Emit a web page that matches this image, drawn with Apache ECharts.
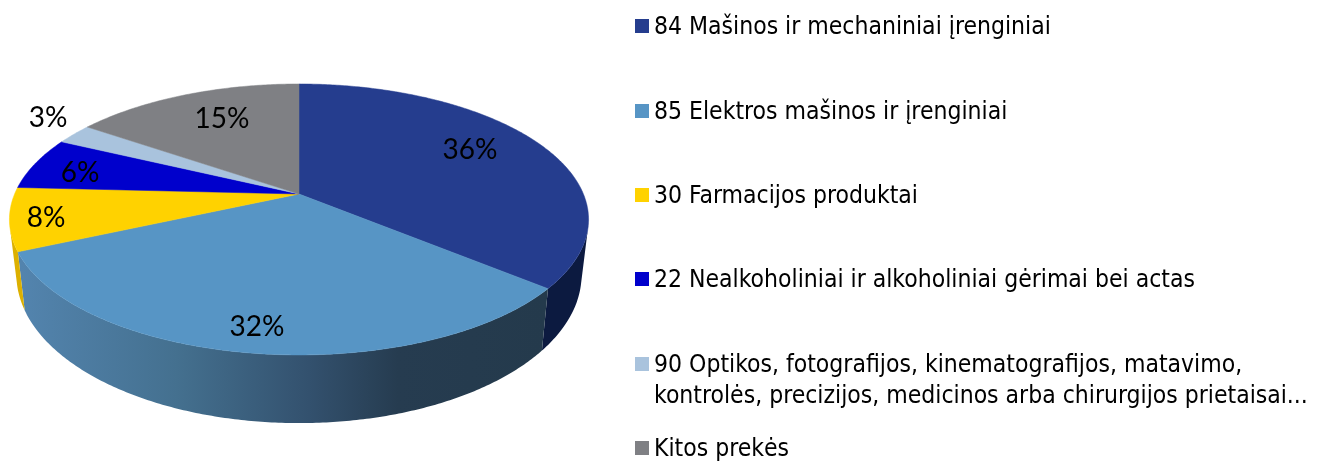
<!DOCTYPE html>
<html>
<head>
<meta charset="utf-8">
<style>html,body{margin:0;padding:0;background:#fff}#c{width:1330px;height:461px}</style>
<script src="https://cdn.jsdelivr.net/npm/echarts@6/dist/echarts.min.js"></script>
</head>
<body>
<div id="c"></div>
<script>
const categories = [
  "84 Mašinos ir mechaniniai įrenginiai",
  "85 Elektros mašinos ir įrenginiai",
  "30 Farmacijos produktai",
  "22 Nealkoholiniai ir alkoholiniai gėrimai bei actas",
  "90 Optikos, fotografijos, kinematografijos, matavimo,\nkontrolės, precizijos, medicinos arba chirurgijos prietaisai...",
  "Kitos prekės"
];
const shares = [36.0, 32.3, 7.5, 6.3, 2.5, 15.4];
const topColors = ["#253d8e", "#5795c5", "#ffd200", "#0000cc", "#a9c3dd", "#7f8084"];
const wallColors = ["#0c1a40", null, "#dcb000", "#00007a", "#657a8a", "#4c4d50"];

// layout of the tilted disc (a projective view of a circle)
const TILT = 0.188;
const TOP = {x: 299, y: 194, a: 284.4, b: 130.7};
const BOTTOM = {x: 299, y: 247, a: 277.5, b: 143};
const labelAt = [[470,150],[257,327],[46,218],[80,173],[48,118],[222,119]];
const legendY = [26,111,195,279,364,448];

function project(disc, theta) {
  const u = Math.sin(theta), v = -Math.cos(theta), d = 1 - TILT * v;
  return [disc.x + disc.a * u / d, disc.y + disc.b * v / d];
}
function arc(disc, a0, a1) {
  const pts = [], n = Math.max(2, Math.ceil((a1 - a0) / 0.01));
  for (let i = 0; i <= n; i++) pts.push(project(disc, a0 + (a1 - a0) * i / n));
  return pts;
}
// angle at which the edge of the wall is tangent to the rim (right-hand side)
function silhouetteAngle() {
  const cross = (t) => {
    const p = project(TOP, t), q = project(TOP, t + 1e-3), b = project(BOTTOM, t);
    return (q[0] - p[0]) * (b[1] - p[1]) - (q[1] - p[1]) * (b[0] - p[0]);
  };
  let lo = Math.PI * 0.2, hi = Math.PI * 0.8;
  const s = Math.sign(cross(lo));
  for (let i = 0; i < 40; i++) {
    const m = (lo + hi) / 2;
    if (Math.sign(cross(m)) === s) lo = m; else hi = m;
  }
  return (lo + hi) / 2;
}
const frontStart = silhouetteAngle();
const frontEnd = 2 * Math.PI - frontStart;

const total = shares.reduce((s, v) => s + v, 0);
function angles(i) {
  let c = 0;
  for (let k = 0; k < i; k++) c += shares[k];
  return [c / total * 2 * Math.PI, (c + shares[i]) / total * 2 * Math.PI];
}
const blueWall = new echarts.graphic.LinearGradient(20, 0, 545, 0, [
  {offset: 0, color: "#5384ae"},
  {offset: 0.3, color: "#44708f"},
  {offset: 0.55, color: "#33516e"},
  {offset: 0.72, color: "#263c50"},
  {offset: 1, color: "#243a4c"}
], true);

const rows = shares.map((v, i) => ({name: categories[i], value: v}));
const chart = echarts.init(document.getElementById('c'), null, {renderer: 'canvas'});
chart.setOption({
  animation: false,
  backgroundColor: '#fff',
  series: [
    {
      type: 'custom', name: 'walls', coordinateSystem: 'none', data: rows, silent: true, z: 1,
      renderItem(params) {
        const [s0, s1] = angles(params.dataIndex);
        const a0 = Math.max(s0, frontStart), a1 = Math.min(s1, frontEnd);
        if (a1 <= a0) return null;
        const pts = arc(TOP, a0, a1).concat(arc(BOTTOM, a0, a1).reverse());
        return {type: 'polygon', shape: {points: pts},
          style: {fill: wallColors[params.dataIndex] || blueWall}};
      }
    },
    {
      type: 'custom', name: 'faces', coordinateSystem: 'none', data: rows, silent: true, z: 2,
      renderItem(params) {
        const [a0, a1] = angles(params.dataIndex);
        const pts = [[TOP.x, TOP.y]].concat(arc(TOP, a0, a1));
        const c = topColors[params.dataIndex];
        return {type: 'polygon', shape: {points: pts},
          style: {fill: c, stroke: c, lineWidth: 0.5}};
      }
    },
    {
      type: 'custom', name: 'labels', coordinateSystem: 'none', data: rows, silent: true, z: 3,
      renderItem(params, api) {
        const i = params.dataIndex;
        return {type: 'text', style: {
          x: labelAt[i][0], y: labelAt[i][1],
          text: Math.round(api.value(0) / total * 100) + '%',
          font: '28px Lato', fill: '#000', align: 'center', verticalAlign: 'middle'
        }};
      }
    },
    {
      type: 'custom', name: 'legend', coordinateSystem: 'none', data: rows, silent: true, z: 3,
      renderItem(params) {
        const i = params.dataIndex;
        return {type: 'group', children: [
          {type: 'rect', shape: {x: 635, y: legendY[i] - 7, width: 14, height: 14},
           style: {fill: topColors[i]}},
          {type: 'text', style: {
            x: 654, y: legendY[i] - 14, text: categories[i], fill: '#000',
            font: '24.5px "DejaVu Sans Condensed", "DejaVu Sans"',
            lineHeight: 31, align: 'left', verticalAlign: 'top'
          }}
        ]};
      }
    }
  ]
});
</script>
</body>
</html>
